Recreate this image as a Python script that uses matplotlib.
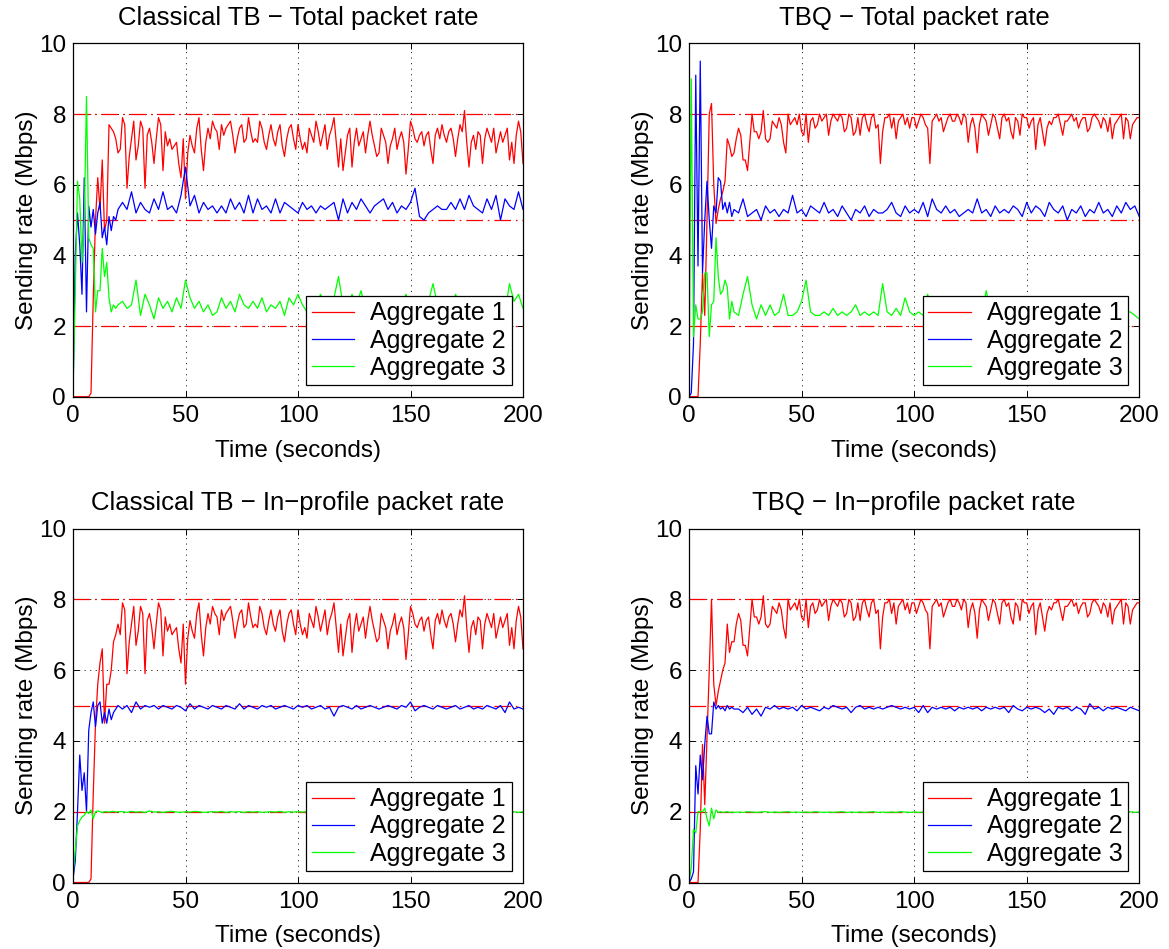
import matplotlib
matplotlib.use("Agg")
import matplotlib.pyplot as plt

plt.rcParams['font.family'] = ['Liberation Sans', 'DejaVu Sans']
plt.rcParams['font.size'] = 17.5
plt.rcParams['lines.scale_dashes'] = False

# ---------------- data ----------------
T_EARLY = list(range(0, 21))          # 1-s samples for the start-up phase
T_LATE = list(range(22, 201, 2))      # 2-s samples afterwards (aggregates 2 and 3)
TIME = T_EARLY + T_LATE
RED_TIME = list(range(0, 201))        # aggregate 1 read at 1-s resolution

TITLES = ["Classical TB \u2212 Total packet rate", "TBQ \u2212 Total packet rate",
          "Classical TB \u2212 In\u2212profile packet rate", "TBQ \u2212 In\u2212profile packet rate"]
SERIES_NAMES = ["Aggregate 1", "Aggregate 2", "Aggregate 3"]
REF_LEVELS = [2, 5, 8]
XTICKS = [0, 50, 100, 150, 200]
YTICKS = [0, 2, 4, 6, 8, 10]
XLABEL = "Time (seconds)"
YLABEL = "Sending rate (Mbps)"

# Classical TB, aggregate 1, t = 21..200 (shared by total / in-profile)
ctb_red_late = [7.0, 7.9, 7.7, 5.9, 6.8, 7.3, 7.8, 6.7, 7.1, 7.8,
                7.6, 5.9, 7.4, 7.6, 7.2, 6.6, 7.3, 7.9, 7.7, 6.4,
                7.5, 7.1, 7.3, 7.0, 7.1, 7.2, 6.6, 6.2, 7.3, 5.6,
                6.9, 7.4, 7.1, 6.9, 7.6, 7.9, 7.0, 6.4, 7.2, 7.6,
                7.3, 7.8, 7.6, 7.5, 7.0, 7.7, 7.4, 7.6, 7.7, 7.8,
                7.4, 6.9, 7.3, 7.6, 7.7, 7.2, 7.3, 7.9, 7.5, 7.2,
                7.3, 7.2, 7.8, 7.6, 7.2, 7.0, 7.4, 7.7, 7.3, 7.1,
                7.5, 7.7, 7.1, 6.8, 7.3, 7.6, 7.7, 7.3, 7.0, 7.7,
                7.3, 7.0, 7.2, 6.9, 7.6, 7.4, 7.2, 7.8, 7.5, 7.1,
                7.4, 7.7, 7.0, 7.4, 7.6, 7.9, 7.2, 6.5, 7.3, 6.4,
                6.9, 7.4, 7.6, 6.5, 7.2, 7.6, 7.1, 7.3, 7.5, 6.9,
                7.4, 7.8, 7.4, 7.1, 6.8, 6.9, 7.6, 7.4, 7.2, 6.6,
                7.1, 7.3, 7.6, 7.0, 7.3, 7.5, 7.2, 6.3, 7.0, 7.8,
                7.6, 7.3, 7.2, 7.4, 7.5, 7.1, 7.4, 7.5, 7.0, 6.6,
                7.4, 7.6, 7.3, 7.7, 7.4, 7.2, 7.5, 7.6, 7.3, 6.8,
                7.3, 7.7, 7.5, 8.1, 7.2, 6.5, 7.2, 7.4, 7.0, 7.5,
                7.4, 6.6, 7.3, 7.6, 7.4, 7.2, 7.6, 6.9, 7.2, 7.5,
                7.2, 7.4, 7.6, 6.7, 7.2, 6.6, 7.4, 7.8, 7.5, 6.6]
ctb_total_red_early = [0, 0, 0, 0, 0, 0, 0, 0, 0.1, 2.8, 5.0, 6.2, 5.3, 6.7, 4.7, 5.0, 7.7, 7.6, 7.5, 7.3, 6.9]
ctb_total_blue = [0, 4.0, 5.2, 4.3, 2.9, 6.2, 2.4, 5.4, 4.8, 5.3, 4.6, 5.2, 5.5, 4.5, 4.8, 4.3, 5.1, 4.7, 5.1, 5.0, 5.3,
                  5.5, 5.3, 5.8, 5.2, 5.5, 5.3, 5.2, 5.6, 5.3, 5.8,
                  5.3, 5.4, 5.2, 5.7, 6.5, 5.4, 5.7, 5.2, 5.5, 5.3,
                  5.4, 5.2, 5.4, 5.2, 5.6, 5.3, 5.5, 5.2, 5.7, 5.2,
                  5.6, 5.3, 5.4, 5.2, 5.6, 5.2, 5.5, 5.4, 5.3, 5.2,
                  5.5, 5.3, 5.4, 5.2, 5.4, 5.3, 5.4, 5.5, 5.0, 5.6,
                  5.2, 5.5, 5.3, 5.6, 5.4, 5.2, 5.4, 5.5, 5.6, 5.3,
                  5.5, 5.2, 5.4, 5.3, 5.5, 5.9, 5.1, 5.0, 5.2, 5.3,
                  5.4, 5.3, 5.3, 5.5, 5.3, 5.6, 5.3, 5.7, 5.4, 5.3,
                  5.2, 5.6, 5.3, 5.7, 5.0, 5.6, 5.4, 5.3, 5.8, 5.3]
ctb_total_green = [0.1, 3.0, 6.1, 5.6, 3.8, 5.0, 8.5, 4.5, 4.3, 4.2, 2.4, 3.0, 3.0, 4.2, 3.4, 3.8, 2.8, 2.4, 2.6, 2.5, 2.6,
                   2.7, 2.5, 2.6, 3.3, 2.3, 2.9, 2.6, 2.2, 2.8, 2.5,
                   2.7, 2.4, 2.8, 2.5, 3.3, 2.8, 2.5, 2.7, 2.4, 2.6,
                   2.3, 2.4, 2.8, 2.5, 2.7, 2.4, 2.9, 2.6, 2.5, 2.7,
                   2.5, 2.8, 2.4, 2.6, 2.5, 2.7, 2.3, 2.8, 2.6, 2.9,
                   2.6, 2.4, 2.8, 2.5, 2.9, 2.6, 2.5, 2.8, 3.4, 2.6,
                   2.5, 2.9, 2.6, 3.0, 2.5, 2.7, 2.4, 2.8, 2.6, 2.5,
                   2.7, 2.5, 2.6, 2.9, 2.5, 2.6, 2.8, 2.4, 2.7, 3.2,
                   2.6, 2.5, 2.7, 2.4, 2.9, 2.6, 2.5, 2.8, 2.6, 2.5,
                   2.7, 2.6, 2.5, 2.8, 2.6, 2.4, 3.2, 2.7, 2.9, 2.5]

# TBQ, aggregate 1, t = 21..200 (shared by total / in-profile)
tbq_red_late = [7.3, 7.6, 7.4, 6.7, 6.7, 6.4, 7.2, 8.0, 7.5, 7.5,
                7.3, 7.5, 8.1, 7.3, 7.2, 7.3, 7.8, 7.7, 7.6, 7.9,
                7.7, 7.2, 6.9, 8.0, 7.7, 7.8, 7.9, 7.7, 8.0, 7.5,
                7.4, 8.0, 7.2, 7.8, 7.9, 7.6, 7.7, 8.0, 7.8, 7.9,
                8.0, 7.4, 7.8, 8.0, 7.9, 7.8, 8.0, 7.9, 7.5, 7.6,
                8.0, 7.9, 7.4, 7.5, 7.9, 7.4, 7.9, 8.0, 7.7, 7.5,
                7.9, 8.0, 7.6, 7.7, 6.6, 7.5, 7.9, 7.9, 8.0, 7.6,
                7.9, 7.3, 7.8, 7.9, 8.0, 7.7, 7.9, 7.6, 7.9, 7.9,
                7.6, 7.8, 8.0, 7.9, 7.7, 7.6, 6.6, 7.8, 7.9, 8.0,
                7.8, 7.9, 7.5, 7.7, 7.9, 8.0, 7.8, 7.8, 8.0, 7.9,
                7.7, 8.0, 7.9, 7.2, 7.7, 7.9, 7.6, 6.9, 7.7, 8.0,
                7.9, 7.8, 7.4, 7.7, 8.0, 7.9, 7.6, 7.3, 7.9, 8.0,
                7.8, 7.9, 7.5, 7.3, 7.9, 7.8, 7.4, 8.0, 7.9, 7.9,
                7.6, 7.8, 7.9, 7.0, 7.7, 7.9, 7.5, 7.1, 7.6, 7.8,
                7.7, 7.9, 7.9, 8.0, 7.7, 7.4, 7.8, 7.8, 7.9, 8.0,
                7.8, 7.9, 7.6, 7.8, 7.9, 7.9, 7.5, 7.6, 7.9, 8.0,
                7.9, 7.8, 7.6, 7.9, 7.8, 7.5, 7.9, 7.3, 7.7, 7.8,
                7.9, 8.0, 7.3, 7.9, 7.8, 7.3, 7.7, 7.8, 7.9, 7.9]
tbq_total_red_early = [0, 0, 0, 0, 0, 1.5, 3.5, 2.3, 5.0, 8.0, 8.3, 6.0, 4.9, 5.3, 5.6, 5.8, 6.1, 7.3, 7.1, 6.8, 6.9]
tbq_total_blue = [0, 0.1, 1.5, 9.1, 3.7, 9.5, 3.5, 5.0, 6.1, 5.0, 4.2, 5.4, 5.2, 6.2, 6.1, 5.3, 5.5, 5.2, 5.5, 5.1, 5.3,
                  5.2, 5.6, 5.1, 5.2, 5.3, 5.0, 5.4, 5.2, 5.3, 5.1,
                  5.3, 5.2, 5.7, 5.2, 5.3, 5.1, 5.4, 5.3, 5.2, 5.5,
                  5.2, 5.3, 5.1, 5.4, 5.2, 5.0, 5.3, 5.2, 5.4, 5.1,
                  5.3, 5.2, 5.2, 5.3, 5.5, 5.2, 5.1, 5.4, 5.2, 5.3,
                  5.2, 5.5, 5.1, 5.6, 5.3, 5.2, 5.4, 5.2, 5.3, 5.1,
                  5.2, 5.3, 5.2, 5.6, 5.2, 5.3, 5.1, 5.4, 5.2, 5.3,
                  5.2, 5.4, 5.3, 5.1, 5.5, 5.2, 5.4, 5.3, 5.1, 5.5,
                  5.3, 5.2, 5.4, 5.0, 5.3, 5.2, 5.4, 5.1, 5.3, 5.2,
                  5.5, 5.2, 5.3, 5.1, 5.4, 5.2, 5.5, 5.3, 5.4, 5.1]
tbq_total_green = [0, 9.0, 1.7, 2.6, 2.2, 2.2, 2.4, 3.5, 3.5, 1.7, 2.6, 2.7, 4.5, 3.4, 2.9, 3.0, 3.3, 3.1, 2.2, 2.7, 2.4,
                   2.3, 2.9, 3.4, 2.6, 2.2, 2.6, 2.3, 2.6, 2.3, 2.4,
                   2.9, 2.3, 2.3, 2.4, 2.7, 3.3, 2.4, 2.3, 2.3, 2.4,
                   2.3, 2.5, 2.3, 2.4, 2.3, 2.4, 2.6, 2.3, 2.4, 2.3,
                   2.4, 2.3, 3.2, 2.4, 2.3, 2.5, 2.3, 2.8, 2.4, 2.3,
                   2.4, 2.3, 2.9, 2.4, 2.3, 2.5, 2.3, 2.4, 2.3, 2.4,
                   2.3, 2.4, 2.3, 2.5, 2.3, 3.0, 2.4, 2.3, 2.4, 2.3,
                   2.4, 2.3, 2.5, 2.3, 2.4, 2.3, 2.4, 2.5, 2.3, 2.4,
                   2.3, 2.4, 2.3, 2.5, 2.4, 2.3, 2.4, 2.3, 2.4, 2.5,
                   2.3, 2.4, 2.3, 2.4, 2.3, 2.5, 2.4, 2.4, 2.3, 2.2]

# Classical TB, in-profile
ctb_inprof_red_early = [0, 0, 0, 0, 0, 0, 0, 0, 0.1, 2.5, 4.5, 5.6, 6.2, 6.6, 4.5, 5.6, 5.6, 6.0, 6.8, 7.0, 7.3]
ctb_inprof_blue = [0.1, 0.6, 2.0, 3.6, 2.6, 3.1, 2.0, 4.3, 4.8, 5.1, 4.4, 5.0, 5.1, 4.5, 4.8, 4.5, 4.9, 4.6, 4.8, 4.9, 5.0,
                   4.9, 5.0, 4.8, 5.1, 4.9, 5.0, 4.95, 5.0, 4.9, 5.0,
                   4.95, 4.9, 5.0, 4.95, 4.85, 5.05, 4.9, 5.0, 4.95, 4.9,
                   5.0, 4.95, 4.9, 5.0, 4.95, 4.9, 5.05, 4.9, 5.0, 4.95,
                   4.9, 5.0, 4.95, 5.0, 4.9, 4.95, 5.0, 4.95, 4.9, 5.0,
                   4.95, 5.0, 4.9, 4.95, 5.0, 4.9, 4.95, 4.7, 4.95, 5.0,
                   4.95, 4.9, 5.0, 4.9, 4.95, 5.0, 4.95, 4.9, 4.95, 5.0,
                   4.95, 4.9, 5.0, 4.95, 5.1, 4.85, 4.95, 5.0, 4.95, 4.9,
                   5.0, 4.95, 4.9, 4.95, 5.0, 4.9, 4.95, 5.0, 4.9, 4.95,
                   4.9, 5.0, 4.95, 4.9, 5.0, 4.8, 5.1, 4.9, 4.95, 4.9]
ctb_inprof_green = [0.2, 0.9, 1.6, 1.75, 1.85, 1.9, 2.0, 1.95, 2.05, 1.8, 2.0, 2.02, 2.0, 1.98, 2.0, 2.0, 1.99, 2.0, 2.01, 1.99, 2.0,
                    2.0, 1.98, 2.01, 1.99, 2.0, 1.98, 2.02, 1.99, 2.0, 1.98,
                    2.0, 2.01, 1.99, 1.98, 2.0, 1.99, 2.01, 2.0, 1.98, 1.99,
                    2.0, 1.99, 2.01, 1.98, 2.0, 1.99, 2.0, 1.98, 2.0, 1.99,
                    2.0, 1.98, 1.99, 2.0, 1.99, 2.01, 1.98, 2.0, 1.99, 2.0,
                    1.99, 2.0, 1.98, 2.01, 1.99, 2.0, 1.98, 1.99, 2.0, 1.99,
                    2.01, 1.99, 2.0, 1.98, 2.0, 1.99, 2.01, 1.99, 2.0, 1.98,
                    2.0, 1.99, 1.98, 2.0, 2.01, 1.99, 2.0, 1.98, 1.99, 2.0,
                    1.99, 2.0, 2.01, 1.98, 2.0, 1.99, 2.0, 1.98, 2.0, 1.99,
                    2.0, 1.98, 1.99, 2.0, 1.99, 2.01, 1.99, 2.0, 1.98, 2.0]

# TBQ, in-profile
tbq_inprof_red_early = [0, 0, 0, 0, 0, 1.5, 3.9, 2.2, 4.1, 6.0, 8.0, 5.6, 5.0, 5.4, 5.7, 6.0, 6.2, 7.3, 6.5, 6.8, 6.8]
tbq_inprof_blue = [0, 0.1, 0.3, 3.3, 2.5, 3.6, 2.9, 3.9, 4.7, 4.2, 4.2, 5.1, 4.9, 5.0, 4.9, 4.95, 4.85, 5.0, 4.9, 4.95, 4.9,
                   4.9, 4.8, 4.95, 4.75, 4.9, 4.7, 4.95, 4.9, 5.0, 4.9,
                   4.95, 4.9, 4.95, 4.85, 5.0, 4.9, 4.95, 4.9, 4.85, 4.95,
                   4.9, 5.0, 4.95, 4.9, 4.95, 4.8, 4.95, 5.0, 4.9, 4.95,
                   4.9, 4.95, 4.9, 4.95, 5.0, 4.95, 4.9, 4.95, 4.9, 4.95,
                   4.8, 5.0, 4.8, 4.95, 4.9, 4.95, 4.9, 4.95, 4.85, 4.95,
                   4.9, 4.95, 4.9, 4.95, 4.85, 4.95, 4.9, 4.95, 4.9, 4.95,
                   4.8, 5.0, 4.9, 4.85, 4.95, 4.9, 4.95, 4.9, 4.8, 4.9,
                   4.75, 4.95, 4.9, 4.95, 4.85, 4.95, 4.9, 4.75, 5.05, 4.9,
                   4.95, 4.85, 4.95, 4.9, 4.95, 4.9, 4.85, 4.95, 4.9, 4.85]
tbq_inprof_green = [0, 0.4, 1.5, 1.4, 2.0, 2.0, 2.0, 2.1, 1.8, 1.6, 2.1, 1.8, 2.05, 1.98, 2.0, 1.98, 1.99, 2.0, 1.98, 1.99, 1.98,
                    1.99, 1.98, 2.0, 1.99, 1.98, 1.99, 2.0, 1.98, 1.99, 1.98,
                    1.99, 2.0, 1.98, 1.99, 1.98, 1.99, 1.98, 2.0, 1.99, 1.98,
                    1.99, 1.98, 1.99, 2.0, 1.98, 1.99, 1.98, 1.99, 1.98, 1.99,
                    2.0, 1.98, 1.99, 1.98, 1.99, 1.98, 2.0, 1.99, 1.98, 1.99,
                    1.98, 1.99, 2.0, 1.98, 1.99, 1.98, 1.99, 1.98, 1.99, 2.0,
                    1.98, 1.99, 1.98, 1.99, 2.0, 1.98, 1.99, 1.98, 1.99, 1.98,
                    1.99, 2.0, 1.98, 1.99, 1.98, 1.99, 1.98, 2.0, 1.99, 1.98,
                    1.99, 1.98, 1.99, 2.0, 1.98, 1.99, 1.98, 1.99, 1.98, 1.99,
                    2.0, 1.98, 1.99, 1.98, 1.99, 1.98, 1.99, 2.0, 1.98, 1.99]

PANELS = [
    (ctb_total_red_early + ctb_red_late, ctb_total_blue, ctb_total_green),
    (tbq_total_red_early + tbq_red_late, tbq_total_blue, tbq_total_green),
    (ctb_inprof_red_early + ctb_red_late, ctb_inprof_blue, ctb_inprof_green),
    (tbq_inprof_red_early + tbq_red_late, tbq_inprof_blue, tbq_inprof_green),
]
SERIES_TIMES = [RED_TIME, TIME, TIME]
COLORS = ["#ff0000", "#0000ff", "#00ff00"]

# ---------------- figure ----------------
W, H = 1169, 949
fig = plt.figure(figsize=(W / 100, H / 100), dpi=100)

def frac(left, right, top, bottom):
    return [left / W, 1 - bottom / H, (right - left) / W, (bottom - top) / H]

positions = [frac(73, 523, 43.4, 396.7), frac(689, 1139.3, 43.4, 396.7),
             frac(73, 523, 528.5, 882.5), frac(689, 1139.3, 528.5, 882.5)]

for pos, title, series in zip(positions, TITLES, PANELS):
    ax = fig.add_axes(pos)
    handles = []
    for tt, vals, col, name in zip(SERIES_TIMES, series, COLORS, SERIES_NAMES):
        assert len(vals) == len(tt), (title, name, len(vals))
        h, = ax.plot(tt, vals, color=col, lw=0.9, label=name)
        handles.append(h)
    for lvl in REF_LEVELS:
        ax.axhline(lvl, color="#ff0000", lw=0.9, dashes=(12, 3.5, 1.2, 3.5), zorder=1.5)
    ax.set_xlim(XTICKS[0], XTICKS[-1])
    ax.set_ylim(YTICKS[0], YTICKS[-1])
    ax.set_xticks(XTICKS)
    ax.set_yticks(YTICKS)
    ax.grid(True, color="black", lw=0.6, dashes=(0.8, 3.2))
    ax.set_axisbelow(True)
    ax.tick_params(direction='in', top=True, right=True, length=4, width=0.7,
                   labelsize=17.5, pad=6)
    ax.tick_params(axis='y', pad=5)
    for sp in ax.spines.values():
        sp.set_linewidth(0.9)
    ax.set_title(title, fontsize=18.5, pad=13)
    ax.set_xlabel(XLABEL, fontsize=17.5, labelpad=9)
    ax.set_ylabel(YLABEL, fontsize=17.5, labelpad=1)
    leg = ax.legend(handles=handles, loc='lower right', fancybox=False, edgecolor='black',
                    framealpha=1, fontsize=18, borderaxespad=0.45, handlelength=1.7,
                    handletextpad=0.65, borderpad=0.22, labelspacing=0.13)
    leg.get_frame().set_linewidth(0.9)

fig.savefig("out.png", dpi=100)
